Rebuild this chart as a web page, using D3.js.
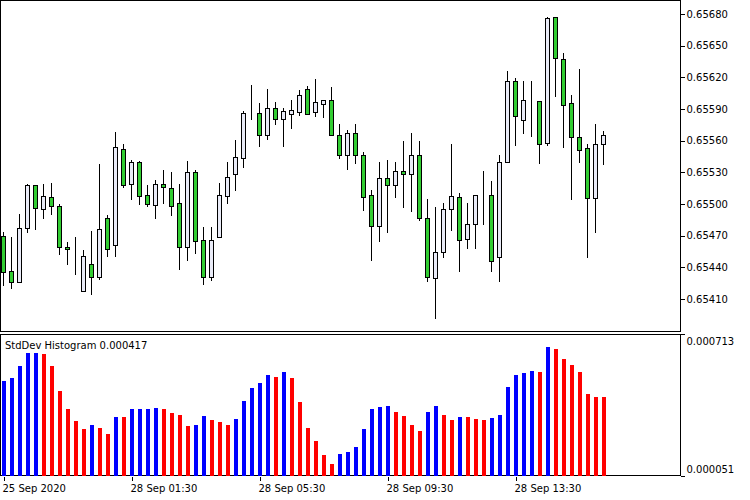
<!DOCTYPE html>
<html>
<head>
<meta charset="utf-8">
<script src="https://cdn.jsdelivr.net/npm/d3@7"></script>
<style>
  body { margin: 0; background: #fff; }
  text { font-family: "DejaVu Sans", sans-serif; font-size: 10px; fill: #000; }
</style>
</head>
<body>
<svg id="canvas" width="750" height="500"></svg>
<script>
// 15-minute candles, [open, high, low, close] in units of 0.00001
let candles = [
  [65470,65473,65423,65436],[65437,65469,65420,65426],[65426,65491,65426,65477],[65477,65519,65473,65518],
  [65518,65518,65476,65496],[65495,65519,65487,65508],[65507,65520,65491,65498],[65498,65500,65453,65459],
  [65459,65464,65443,65457],[65457,65469,65434,65457],[65418,65456,65418,65451],[65443,65474,65415,65431],
  [65431,65538,65429,65476],[65487,65490,65451,65457],[65461,65568,65451,65554],[65552,65557,65516,65518],
  [65519,65542,65505,65540],[65540,65541,65500,65508],[65509,65518,65498,65500],[65499,65523,65487,65519],
  [65519,65532,65501,65516],[65515,65530,65490,65498],[65501,65519,65438,65459],[65459,65541,65447,65530],
  [65530,65532,65454,65465],[65466,65478,65424,65431],[65431,65478,65428,65466],[65469,65520,65469,65509],
  [65508,65540,65501,65526],[65528,65561,65513,65545],[65544,65588,65535,65586],[65586,65613,65581,65586],
  [65586,65596,65555,65565],[65565,65609,65562,65591],[65591,65597,65576,65581],[65581,65591,65555,65588],
  [65585,65599,65572,65589],[65587,65608,65584,65603],[65609,65612,65585,65585],[65587,65618,65583,65597],
  [65595,65599,65582,65599],[65599,65611,65565,65565],[65565,65576,65544,65546],[65546,65570,65533,65567],
  [65567,65576,65539,65546],[65546,65549,65494,65507],[65509,65513,65447,65479],[65479,65540,65465,65525],
  [65525,65542,65473,65518],[65518,65540,65507,65531],[65531,65560,65497,65528],[65528,65567,65493,65546],
  [65546,65560,65485,65487],[65487,65505,65427,65431],[65430,65497,65392,65455],[65455,65501,65450,65495],
  [65495,65557,65475,65508],[65507,65510,65437,65466],[65467,65501,65458,65481],[65481,65509,65458,65509],
  [65509,65531,65481,65509],[65509,65522,65437,65446],[65450,65546,65427,65540],[65540,65626,65540,65617],
  [65617,65619,65556,65583],[65580,65617,65567,65599],[65598,65617,65564,65598],[65598,65598,65539,65557],
  [65558,65677,65556,65676],[65677,65677,65602,65638],[65637,65643,65554,65594],[65596,65603,65505,65563],
  [65563,65628,65540,65551],[65553,65557,65450,65506],[65506,65576,65473,65557],[65557,65569,65538,65565]
]

// StdDev histogram values, units of 0.000001
let stdDev = [495,509,566,625,625,622,566,449,365,306,272,291,277,245,328,328,365,365,365,370,
  365,347,337,282,291,333,310,305,291,319,402,463,486,523,514,537,509,398,277,212,
  147,105,152,161,184,268,365,375,379,351,333,291,263,351,379,337,314,328,328,319,
  314,323,337,467,523,532,542,537,653,644,597,570,537,435,421,417]
let stdDir = 'bbbbbrrrrrrbrrbrbbbbrrrrbbrrrbbbbbrbrrrrrrbbbbbbbrrrrbbrrbrrrbbbbbbrbrrrrrrr'

let priceTicks = [0.65680,0.65650,0.65620,0.65590,0.65560,0.65530,0.65500,0.65470,0.65440,0.65410]
let timeTickIdx = [0, 16, 32, 48, 64]
let timeLabels = ['25 Sep 2020', '28 Sep 01:30', '28 Sep 05:30', '28 Sep 09:30', '28 Sep 13:30']

let svg = d3.select('#canvas')

let x = d3.scaleLinear().domain([0, 75]).range([3, 603])
let y = d3.scaleLinear().domain([0.65410, 0.65680]).range([299, 14])
let yh = d3.scaleLinear().domain([0.000051, 0.000713]).range([476, 334])

let px = (v) => Math.round(v) + 0.5

// panes
svg.append('rect').attr('x', 0.5).attr('y', 0.5).attr('width', 680).attr('height', 331)
    .attr('fill', 'none').attr('stroke', '#000').attr('shape-rendering', 'crispEdges')
svg.append('rect').attr('x', 0.5).attr('y', 334.5).attr('width', 680).attr('height', 141)
    .attr('fill', 'none').attr('stroke', '#000').attr('shape-rendering', 'crispEdges')

// candles
let c = svg.append('g').attr('shape-rendering', 'crispEdges')
let candle = c.selectAll('g').data(candles).enter().append('g')
candle.append('line')
    .attr('x1', (d, i) => px(x(i))).attr('x2', (d, i) => px(x(i)))
    .attr('y1', (d) => Math.round(y(d[1] / 100000)))
    .attr('y2', (d) => Math.round(y(d[2] / 100000)) + 1)
    .attr('stroke', '#000')
candle.append('rect')
    .attr('x', (d, i) => px(x(i)) - 2)
    .attr('y', (d) => Math.round(y(Math.max(d[0], d[3]) / 100000)) + 0.5)
    .attr('width', 4)
    .attr('height', (d) => Math.max(0, Math.round(y(Math.min(d[0], d[3]) / 100000)) - Math.round(y(Math.max(d[0], d[3]) / 100000))))
    .attr('fill', (d) => d[3] > d[0] ? '#e9ebf7' : (d[3] < d[0] ? '#32cd32' : '#000'))
    .attr('stroke', '#000')

// price axis
let yAxis = d3.axisRight(y).tickValues(priceTicks).tickSize(4).tickPadding(2)
    .tickFormat(d3.format('.5f'))
let ga = svg.append('g').attr('transform', 'translate(680.5,0)').call(yAxis)
ga.select('.domain').remove()
ga.selectAll('line').attr('stroke', '#000').attr('shape-rendering', 'crispEdges')
ga.selectAll('text').style('font-family', '"DejaVu Sans", sans-serif').style('font-size', '10px')

// histogram
svg.append('g').attr('shape-rendering', 'crispEdges')
    .selectAll('rect').data(stdDev).enter().append('rect')
    .attr('x', (d, i) => Math.round(x(i)) - 1)
    .attr('y', (d) => Math.round(yh(d / 1e6)))
    .attr('width', 4)
    .attr('height', (d) => 476 - Math.round(yh(d / 1e6)))
    .attr('fill', (d, i) => stdDir[i] === 'b' ? '#0000ff' : '#ff0000')

let hAxis = d3.axisRight(yh).tickValues([0.000713, 0.000051]).tickSize(4).tickPadding(2)
    .tickFormat(d3.format('.6f'))
let gh = svg.append('g').attr('transform', 'translate(680.5,0)').call(hAxis)
gh.select('.domain').remove()
gh.selectAll('line').attr('stroke', '#000').attr('shape-rendering', 'crispEdges')
gh.selectAll('text').attr('dy', (d) => d > 0.0004 ? '1.05em' : '-0.35em')
    .style('font-family', '"DejaVu Sans", sans-serif').style('font-size', '10px')

svg.append('text').attr('x', 5).attr('y', 349).text('StdDev Histogram 0.000417')

// time axis
let xAxis = d3.axisBottom(x).tickValues(timeTickIdx).tickSize(4).tickPadding(4)
    .tickFormat((d, i) => timeLabels[i])
let gx = svg.append('g').attr('transform', 'translate(0,476.5)').call(xAxis)
gx.select('.domain').remove()
gx.selectAll('line').attr('stroke', '#000').attr('shape-rendering', 'crispEdges')
    .attr('transform', 'translate(0.5,0)')
gx.selectAll('text').attr('text-anchor', 'start').attr('dx', '-1')
    .style('font-family', '"DejaVu Sans", sans-serif').style('font-size', '10px')
</script>
</body>
</html>
